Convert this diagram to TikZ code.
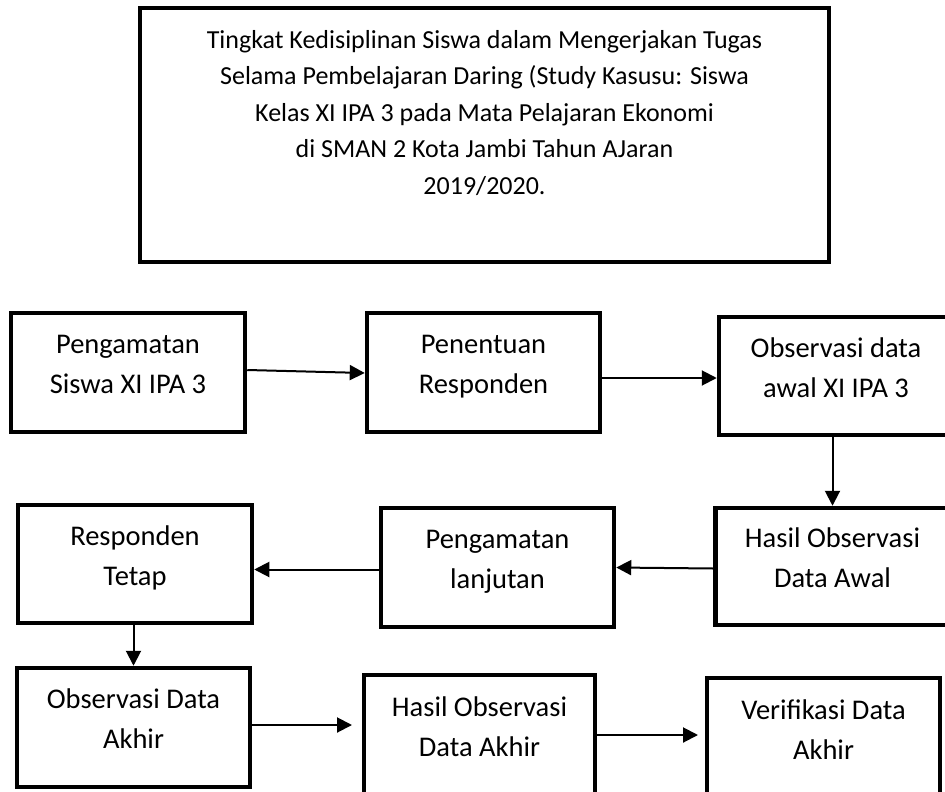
\documentclass[tikz,border=0pt]{standalone}
\usepackage{fontspec}
\setmainfont{Carlito}
\usetikzlibrary{arrows.meta}
\newcommand\bxstrut{\rule[-19pt]{0pt}{40pt}}
\newcommand\ttstrut{\rule[-13pt]{0pt}{35pt}}
\begin{document}
\begin{tikzpicture}[x=1pt,y=-1pt,
  box/.style={draw,line width=4.5pt,inner sep=0pt,minimum width=234pt,minimum height=119pt,align=center,font=\fontsize{28.5}{40}\selectfont},
  titlebox/.style={draw,line width=4.5pt,inner sep=0pt,minimum width=689pt,minimum height=254pt,align=center,font=\fontsize{26}{36.5}\selectfont},
  arr/.style={line width=2pt,-{Triangle[length=15pt,width=15pt]}}]
\useasboundingbox (0,0) rectangle (945,792);
\node[titlebox] (title) at (484.5,135) {\ttstrut Tingkat Kedisiplinan Siswa dalam Mengerjakan Tugas\\ \ttstrut Selama Pembelajaran Daring (Study Kasusu: Siswa\\ \ttstrut Kelas XI IPA 3 pada Mata Pelajaran Ekonomi\\ \ttstrut di SMAN 2 Kota Jambi Tahun AJaran\\ \ttstrut 2019/2020.\\ \ttstrut};
\node[box] (b1) at (128,372.5) {\bxstrut Pengamatan\\ \bxstrut Siswa XI IPA 3};
\node[box,minimum width=233pt] (b2) at (483.5,372.5) {\bxstrut Penentuan\\ \bxstrut Responden};
\node[box,minimum height=118pt] (b3) at (836,376) {\bxstrut Observasi data\\ \bxstrut awal XI IPA 3};
\node[box,minimum height=118pt] (b4) at (135,564) {\bxstrut Responden\\ \bxstrut Tetap};
\node[box,minimum width=233pt] (b5) at (497.5,567.5) {\bxstrut Pengamatan\\ \bxstrut lanjutan};
\node[box,minimum height=117pt] (b6) at (832.5,566.5) {\bxstrut Hasil Observasi\\ \bxstrut Data Awal};
\node[box,minimum width=233pt] (b7) at (133.5,727.5) {\bxstrut Observasi Data\\ \bxstrut Akhir};
\node[box,minimum width=231pt,minimum height=120pt] (b8) at (479.5,735) {\bxstrut Hasil Observasi\\ \bxstrut Data Akhir};
\node[box,minimum width=233pt,minimum height=120pt] (b9) at (823.5,738) {\bxstrut Verifikasi Data\\ \bxstrut Akhir};
\coordinate (e8) at (352,725);
\coordinate (e9) at (698,735);
\draw[arr] ([yshift=2.5pt]b1.east) -- ([yshift=-0.5pt]b2.west);
\draw[arr] ([yshift=-2pt]b2.east |- b3.west) -- ([yshift=-2pt]b3.west);
\draw[arr] (b3.south -| b6.north) -- (b6.north);
\draw[arr] ([yshift=-2pt]b6.west) -- (b5.east);
\draw[arr] ([yshift=-2pt]b5.west) -- ([yshift=-2pt]b5.west -| b4.east);
\draw[arr] (b4.south -| b7.north) -- (b7.north);
\draw[arr] (b7.east |- e8) -- (e8);
\draw[arr] (b8.east |- e9) -- (e9);
\end{tikzpicture}
\end{document}
